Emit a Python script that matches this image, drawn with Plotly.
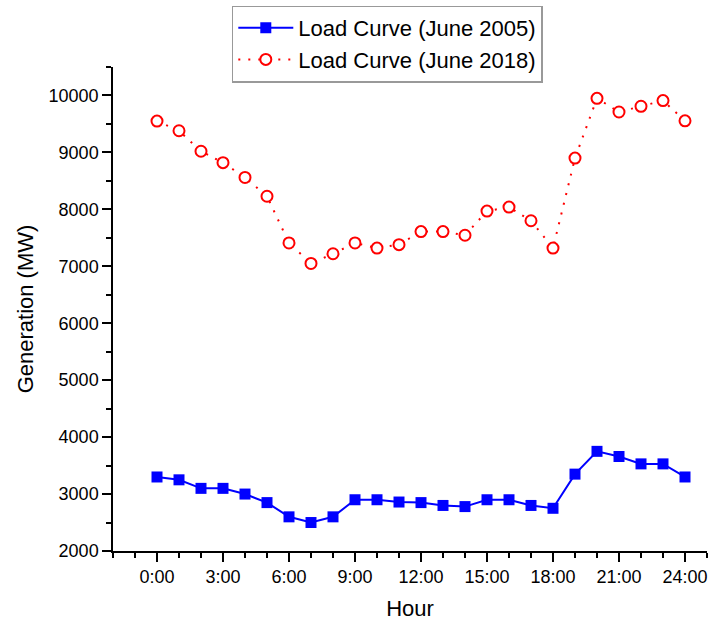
import plotly.graph_objects as go

# Hour of day (0:00 .. 24:00)
hours = list(range(25))
hour_labels = [f"{h}:00" for h in range(0, 25, 3)]
hour_ticks = list(range(0, 25, 3))

# Generation in MW
load_2005 = [3300, 3250, 3100, 3100, 3000, 2850, 2600, 2500, 2600, 2900, 2900, 2860,
             2850, 2800, 2780, 2900, 2900, 2800, 2750, 3350, 3750, 3660, 3530, 3530, 3300]
load_2018 = [9550, 9380, 9020, 8820, 8560, 8230, 7410, 7050, 7220, 7410, 7320, 7380,
             7610, 7610, 7545, 7970, 8040, 7800, 7320, 8900, 9950, 9710, 9810, 9910, 9555]

FONT = "Arial, 'Liberation Sans', sans-serif"

fig = go.Figure()
fig.add_trace(go.Scatter(
    x=hours, y=load_2005, name="Load Curve (June 2005)",
    mode="lines+markers",
    line=dict(color="#0000ff", width=2),
    marker=dict(symbol="square", size=11, color="#0000ff"),
))
fig.add_trace(go.Scatter(
    x=hours, y=load_2018, name="Load Curve (June 2018)",
    mode="lines+markers",
    line=dict(color="#ff0000", width=2, dash="2px,8px"),
    marker=dict(symbol="circle", size=11, color="white",
                line=dict(color="#ff0000", width=2)),
))

axis_common = dict(
    showgrid=False, zeroline=False, showline=True, linecolor="black", linewidth=1.5,
    ticks="outside", ticklen=9, tickwidth=1.5, tickcolor="black",
    tickfont=dict(family=FONT, size=18, color="black"),
    mirror=False,
)

fig.update_xaxes(
    **axis_common,
    range=[-2, 25], tickmode="array", tickvals=hour_ticks, ticktext=hour_labels,
    minor=dict(tickmode="linear", tick0=0, dtick=1, ticks="outside", ticklen=5,
               tickwidth=1.5, tickcolor="black"),
    title=dict(text="Hour", font=dict(family=FONT, size=22, color="black"), standoff=14),
)
fig.update_yaxes(
    **axis_common,
    range=[2000, 10500], tickmode="linear", tick0=2000, dtick=1000, tickformat="d",
    minor=dict(tickmode="linear", tick0=2000, dtick=500, ticks="outside", ticklen=5,
               tickwidth=1.5, tickcolor="black"),
    title=dict(text="Generation (MW)", font=dict(family=FONT, size=22, color="black"),
               standoff=9),
)

fig.update_layout(
    width=710, height=625,
    margin=dict(l=113, r=3, t=67, b=74),
    paper_bgcolor="white", plot_bgcolor="white",
    font=dict(family=FONT, color="black"),
    legend=dict(
        x=0.2, y=1.127, xanchor="left", yanchor="top",
        bgcolor="white", bordercolor="#999999", borderwidth=1.5,
        font=dict(family=FONT, size=22, color="black"),
        itemwidth=55, tracegroupgap=0,
    ),
    showlegend=True,
)

fig.write_html("out.html")
